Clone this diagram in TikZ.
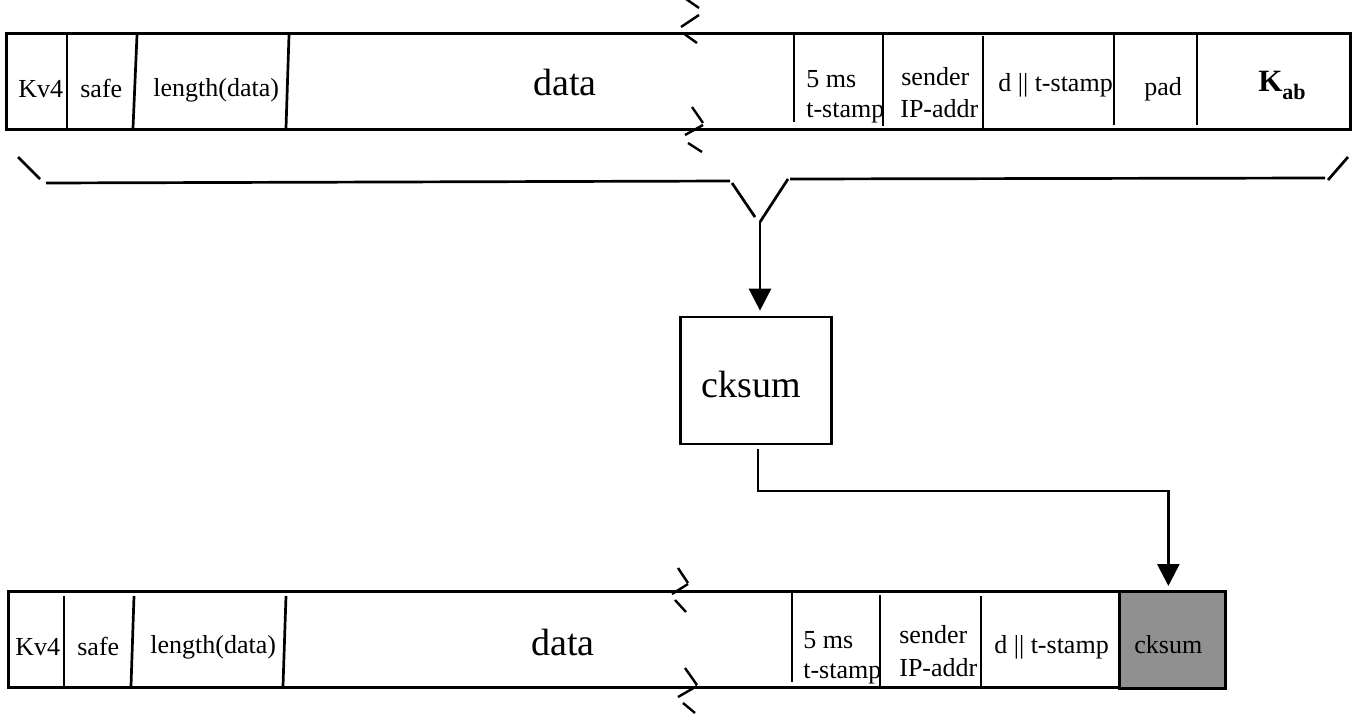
\documentclass[tikz,border=0pt]{standalone}
\usepackage{fontspec}
\setmainfont{Liberation Serif}
\usetikzlibrary{arrows.meta}
\definecolor{cellgray}{HTML}{909090}
\begin{document}
\begin{tikzpicture}[x=1pt, y=-1pt, line width=2.7pt,
  lbl/.style={anchor=base west, inner sep=0pt, font=\fontsize{26}{29}\selectfont},
  big/.style={anchor=base west, inner sep=0pt, font=\fontsize{38}{40}\selectfont},
  frame/.style={draw, line width=2.7pt, inner sep=0pt, anchor=north west},
  tip/.style={-{Triangle[length=22pt,width=22pt]}},
  brk/.style={line width=2.4pt}]
\useasboundingbox (0,0) rectangle (1359,717);

% ---------- upper packet: fields covered by the checksum ----------
\node[frame, minimum width=1344pt, minimum height=96pt] (pkt) at (5,32) {};
\draw (67,35) -- (67,128);
\draw (137,35) -- (133,128);
\draw (289,35) -- (286,128);
\draw (794,33) -- (794,122);
\draw (883,35) -- (883,126);
\draw (983,36) -- (983,128);
\draw (1114,35) -- (1114,125);
\draw (1197,35) -- (1197,125);

\node[lbl] (kv) at (17,97) {Kv4};
\node[lbl] (sf) at (79,97) {safe};
\node[lbl] (len) at (152,96) {length(data)};
\node[big] (dat) at (532,95) {data};
\node[lbl] (ms) at (805,88) {5 ms};
\node[lbl] (ts) at (805,117) {t-stamp};
\node[lbl] (snd) at (900,85) {sender};
\node[lbl] (ip) at (899,117) {IP-addr};
\node[lbl] (dts) at (997,92) {d || t-stamp};
\node[lbl] (pad) at (1143,95) {pad};
\node[anchor=base west, inner sep=0pt] (kab) at (1257,91)
  {{\fontsize{31}{31}\selectfont\bfseries K}\raisebox{-9pt}{\fontsize{22}{22}\selectfont\bfseries ab}};

% break marks in the data field
\draw[brk] (686,-1) -- (699,8);
\draw[brk] (699,15) -- (681,27);
\draw[brk] (683,33) -- (697,43);
\draw[brk] (692,107) -- (703,123);
\draw[brk] (703,125) -- (685,135);
\draw[brk] (688,143) -- (702,152);

% ---------- brace gathering all fields ----------
\coordinate (fork) at (760,222);
\draw (18,157) -- (40,179);
\draw (46,183) -- (730,181);
\draw (732,183) -- (755,217);
\draw (788,179) -- (fork);
\draw (790,179) -- (1325,178);
\draw (1328,180) -- (1348,157);

% ---------- checksum function ----------
\node[draw, line width=2.7pt, minimum width=151pt, minimum height=127pt] (ck) at (756,380.5) {};
\node[big] (cklbl) at (700,397) {cksum};
\draw[tip, shorten >=5pt] (fork) -- (fork |- ck.north);

% ---------- lower packet: checksum replaces pad and key ----------
\node[frame, minimum width=1111pt, minimum height=96pt] (out) at (7,590) {};
\draw (64,596) -- (64,687);
\draw (134,596) -- (131,686);
\draw (286,596) -- (283,686);
\draw (792,593) -- (792,682);
\draw (880,595) -- (880,686);
\draw (981,596) -- (981,687);
\node[frame, fill=cellgray, minimum width=106pt, minimum height=97pt] (cell) at (1118,590) {};

\node[lbl] (kv2) at (14,655) {Kv4};
\node[lbl] (sf2) at (76,655) {safe};
\node[lbl] (len2) at (149,653) {length(data)};
\node[big] (dat2) at (530,655) {data};
\node[lbl] (ms2) at (802,648) {5 ms};
\node[lbl] (ts2) at (802,678) {t-stamp};
\node[lbl] (snd2) at (898,643) {sender};
\node[lbl] (ip2) at (898,676) {IP-addr};
\node[lbl] (dts2) at (993,653) {d || t-stamp};
\node[lbl] (cs2) at (1133,653) {cksum};

\draw[brk] (678,568) -- (688,583);
\draw[brk] (688,584) -- (672,594);
\draw[brk] (675,600) -- (686,612);
\draw[brk] (685,668) -- (697,685);
\draw[brk] (697,686) -- (678,697);
\draw[brk] (683,703) -- (695,713);

\draw[tip, shorten >=4pt] ([xshift=2pt, yshift=-4pt]ck.south)
  |- ([xshift=-4pt, yshift=99pt]cell.north) -- ([xshift=-4pt]cell.north);
\end{tikzpicture}
\end{document}
